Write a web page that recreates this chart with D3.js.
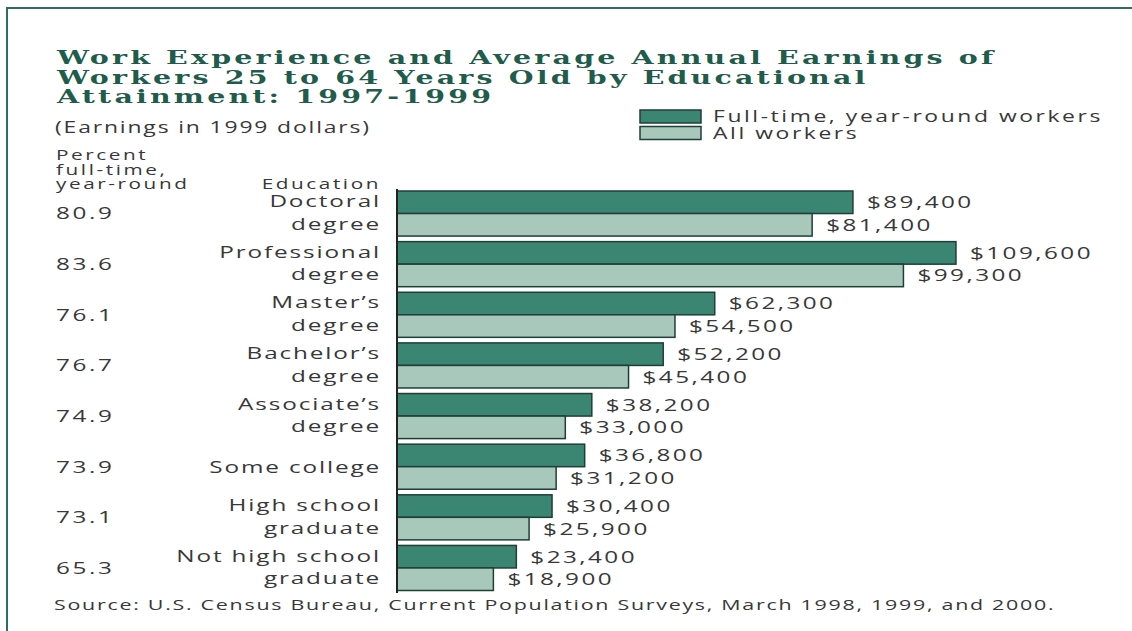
<!DOCTYPE html>
<html>
<head>
<meta charset="utf-8">
<script src="https://cdn.jsdelivr.net/npm/d3@7"></script>
<style>
  body { margin: 0; background: #fff; }
  svg { display: block; }
</style>
</head>
<body>
<svg id="chart" width="1132" height="631"></svg>
<script>
// data
const categories = ["Doctoral degree", "Professional degree", "Master's degree", "Bachelor's degree",
  "Associate's degree", "Some college", "High school graduate", "Not high school graduate"];
const labelLines = [["Doctoral", "degree"], ["Professional", "degree"], ["Master\u2019s", "degree"],
  ["Bachelor\u2019s", "degree"], ["Associate\u2019s", "degree"], ["Some college"],
  ["High school", "graduate"], ["Not high school", "graduate"]];
const pctFullTime = ["80.9", "83.6", "76.1", "76.7", "74.9", "73.9", "73.1", "65.3"];
const fullTime = [89400, 109600, 62300, 52200, 38200, 36800, 30400, 23400];
const allWorkers = [81400, 99300, 54500, 45400, 33000, 31200, 25900, 18900];
const seriesNames = ["Full-time, year-round workers", "All workers"];
const titleLines = ["Work Experience and Average Annual Earnings of",
  "Workers 25 to 64 Years Old by Educational", "Attainment: 1997-1999"];

const colors = ["#3b8573", "#a8c8bc"];
const SX = 1.43; // the picture is stretched sideways
const textColor = "#383838";

const svg = d3.select("#chart");

function addText(parent, x, y, str, o = {}) {
  return parent.append("text")
    .attr("transform", `translate(${x},${y}) scale(${o.sx || SX},1)`)
    .attr("text-anchor", o.anchor || "start")
    .attr("dy", o.dy == null ? "0.35em" : o.dy)
    .style("font-family", o.family || "'Open Sans', sans-serif")
    .style("font-size", (o.size || 17) + "px")
    .style("font-weight", o.weight || "normal")
    .style("letter-spacing", (o.ls == null ? 1.3 : o.ls) + "px")
    .attr("fill", o.fill || textColor)
    .text(str);
}

// frame
svg.append("line").attr("x1", 7).attr("x2", 7).attr("y1", 8).attr("y2", 631)
  .attr("stroke", "#2f6e5e").attr("stroke-width", 2);
svg.append("line").attr("x1", 6).attr("x2", 1132).attr("y1", 8).attr("y2", 8)
  .attr("stroke", "#2f6e5e").attr("stroke-width", 2);

// title
titleLines.forEach((t, i) => {
  addText(svg, 57, 64 + i * 19.5, t, {
    family: "'DejaVu Serif', serif", weight: "bold", size: 19, ls: 2.1, sx: 1.5,
    fill: "#1f5c4c", dy: 0
  });
});
addText(svg, 55, 127, "(Earnings in 1999 dollars)", { size: 16 });

// legend
const legend = svg.append("g");
seriesNames.forEach((name, i) => {
  legend.append("rect")
    .attr("x", 640).attr("y", 110 + i * 16.5)
    .attr("width", 61).attr("height", 13)
    .attr("fill", colors[i]).attr("stroke", "#1f3f36").attr("stroke-width", 1.5);
  addText(legend, 713, 116.5 + i * 16.5, name, { size: 16, ls: 1.8 });
});

// column headers
["Percent", "full-time,", "year-round"].forEach((t, i) => {
  addText(svg, 56, 155 + i * 14.5, t, { size: 14.5, ls: 1.8 });
});
addText(svg, 381, 184, "Education", { anchor: "end", size: 14.5, ls: 1.8 });

// scales
const y = d3.scaleBand().domain(categories).range([191, 590.5]).paddingInner(0.11).paddingOuter(0);
const ySub = d3.scaleBand().domain([0, 1]).range([0, y.bandwidth()]);
const x = d3.scaleLinear().domain([0, 110000]).range([397, 958]);

const fmt = d3.format("$,");

const groups = svg.selectAll("g.group")
  .data(categories)
  .join("g")
  .attr("class", "group")
  .attr("transform", d => `translate(0,${y(d)})`);

groups.each(function (cat, i) {
  const g = d3.select(this);
  const vals = [fullTime[i], allWorkers[i]];
  vals.forEach((v, s) => {
    g.append("rect")
      .attr("x", x(0))
      .attr("y", ySub(s))
      .attr("width", x(v) - x(0))
      .attr("height", ySub.bandwidth())
      .attr("fill", colors[s])
      .attr("stroke", "#1f3f36")
      .attr("stroke-width", 1.5);
    addText(g, x(v) + 14, ySub(s) + ySub.bandwidth() / 2, fmt(v), { size: 17, ls: 1.7 });
  });
  const lines = labelLines[i];
  if (lines.length === 1) {
    addText(g, 381, y.bandwidth() / 2, lines[0], { anchor: "end" });
  } else {
    lines.forEach((t, k) => {
      addText(g, 381, ySub(k) + ySub.bandwidth() / 2 - 1, t, { anchor: "end" });
    });
  }
  addText(g, 56, y.bandwidth() / 2, pctFullTime[i], { ls: 1.8 });
});

// axis line
svg.append("line")
  .attr("x1", x(0)).attr("x2", x(0))
  .attr("y1", 189).attr("y2", 593)
  .attr("stroke", "#222").attr("stroke-width", 2);

// source
addText(svg, 54, 605, "Source: U.S. Census Bureau, Current Population Surveys, March 1998, 1999, and 2000.",
  { size: 15, ls: 1.2 });
</script>
</body>
</html>
